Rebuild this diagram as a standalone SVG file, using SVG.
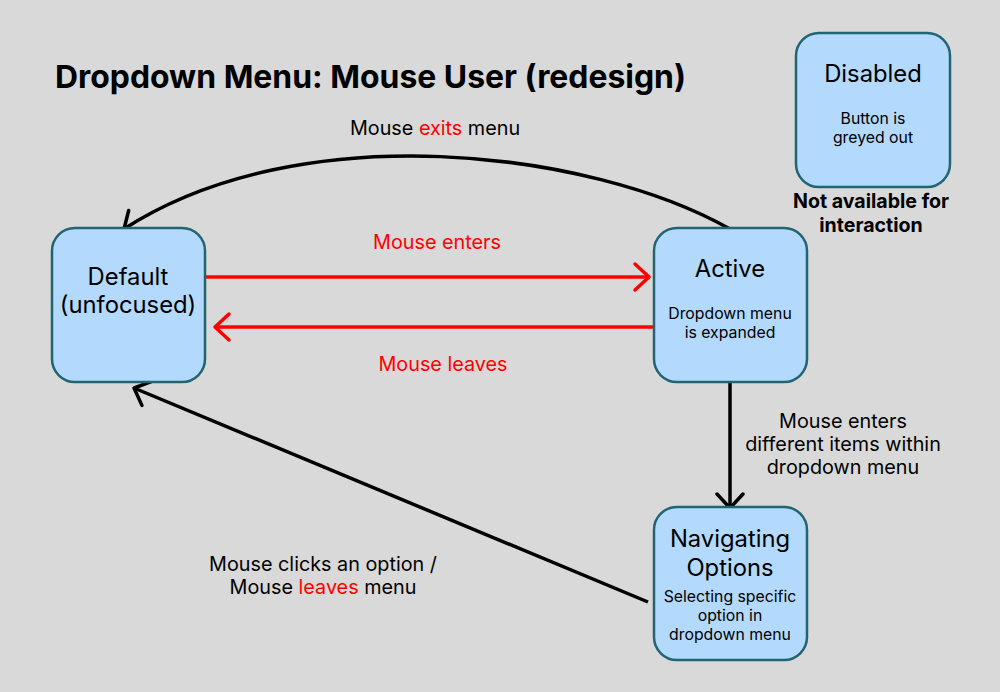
<svg xmlns="http://www.w3.org/2000/svg" width="1000" height="692" viewBox="0 0 1000 692">
<defs>
<style>
.node{fill:#b3d9fd;stroke:#226572;stroke-width:2.5}
.t{font-family:Inter,"Noto Sans","Liberation Sans",sans-serif;fill:#000;text-anchor:middle}
.h{font-size:23.8px}
.s{font-size:15.8px}
.l{font-size:19.8px}
.b{font-weight:bold;font-size:19.6px}
.r{fill:#ff0000}
.k{fill:none;stroke:#000;stroke-width:3.5}
.rd{fill:none;stroke:#ff0000;stroke-width:3.5}
</style>
<marker id="ak" markerUnits="userSpaceOnUse" markerWidth="34" markerHeight="34" viewBox="-20 -17 34 34" refX="0" refY="0" orient="auto">
<path d="M-14,-13 L0,0 L-14,13" fill="none" stroke="#000" stroke-width="3.5" stroke-linecap="round" stroke-linejoin="round"/>
</marker>
<marker id="ar" markerUnits="userSpaceOnUse" markerWidth="34" markerHeight="34" viewBox="-20 -17 34 34" refX="0" refY="0" orient="auto">
<path d="M-14,-13 L0,0 L-14,13" fill="none" stroke="#ff0000" stroke-width="3.5" stroke-linecap="round" stroke-linejoin="round"/>
</marker>
</defs>
<rect width="1000" height="692" fill="#d9d9d9"/>
<text x="55" y="88" font-family="Inter,'Noto Sans','Liberation Sans',sans-serif" font-size="31.9" font-weight="bold">Dropdown Menu: Mouse User (redesign)</text>
<g id="connectors">
<path class="k" d="M730,229 C590,150 300,115 124,229" marker-end="url(#ak)"/>
<path class="rd" d="M205,277 L649,277" marker-end="url(#ar)"/>
<path class="rd" d="M654,327 L215,327" marker-end="url(#ar)"/>
<path class="k" d="M730,382 L730,508" marker-end="url(#ak)"/>
<path class="k" d="M648,602 L134,388" marker-end="url(#ak)"/>
<text class="t l" x="435" y="135">Mouse <tspan class="r">exits</tspan> menu</text>
<text class="t l r" x="437" y="249">Mouse enters</text>
<text class="t l r" x="443" y="371">Mouse leaves</text>
<text class="t l" x="843" y="428">Mouse enters</text>
<text class="t l" x="843" y="451">different items within</text>
<text class="t l" x="843" y="474">dropdown menu</text>
<text class="t l" x="323" y="571">Mouse clicks an option /</text>
<text class="t l" x="323" y="594">Mouse <tspan class="r">leaves</tspan> menu</text>
</g>
<g id="default">
<rect class="node" x="52" y="228" width="153" height="154" rx="23"/>
<text class="t h" x="128" y="285">Default</text>
<text class="t h" x="128" y="313">(unfocused)</text>
</g>
<g id="active">
<rect class="node" x="654" y="228" width="153" height="154" rx="23"/>
<text class="t h" x="730" y="277">Active</text>
<text class="t s" x="730" y="319">Dropdown menu</text>
<text class="t s" x="730" y="338">is expanded</text>
</g>
<g id="navigating">
<rect class="node" x="654" y="507" width="153" height="153" rx="23"/>
<text class="t h" x="730" y="547">Navigating</text>
<text class="t h" x="730" y="576">Options</text>
<text class="t s" x="730" y="602">Selecting specific</text>
<text class="t s" x="730" y="621">option in</text>
<text class="t s" x="730" y="640">dropdown menu</text>
</g>
<g id="disabled">
<rect class="node" x="796" y="33" width="154" height="154" rx="23"/>
<text class="t h" x="873" y="82">Disabled</text>
<text class="t s" x="873" y="124">Button is</text>
<text class="t s" x="873" y="143">greyed out</text>
<text class="t b" x="871" y="208">Not available for</text>
<text class="t b" x="871" y="232">interaction</text>
</g>
</svg>
